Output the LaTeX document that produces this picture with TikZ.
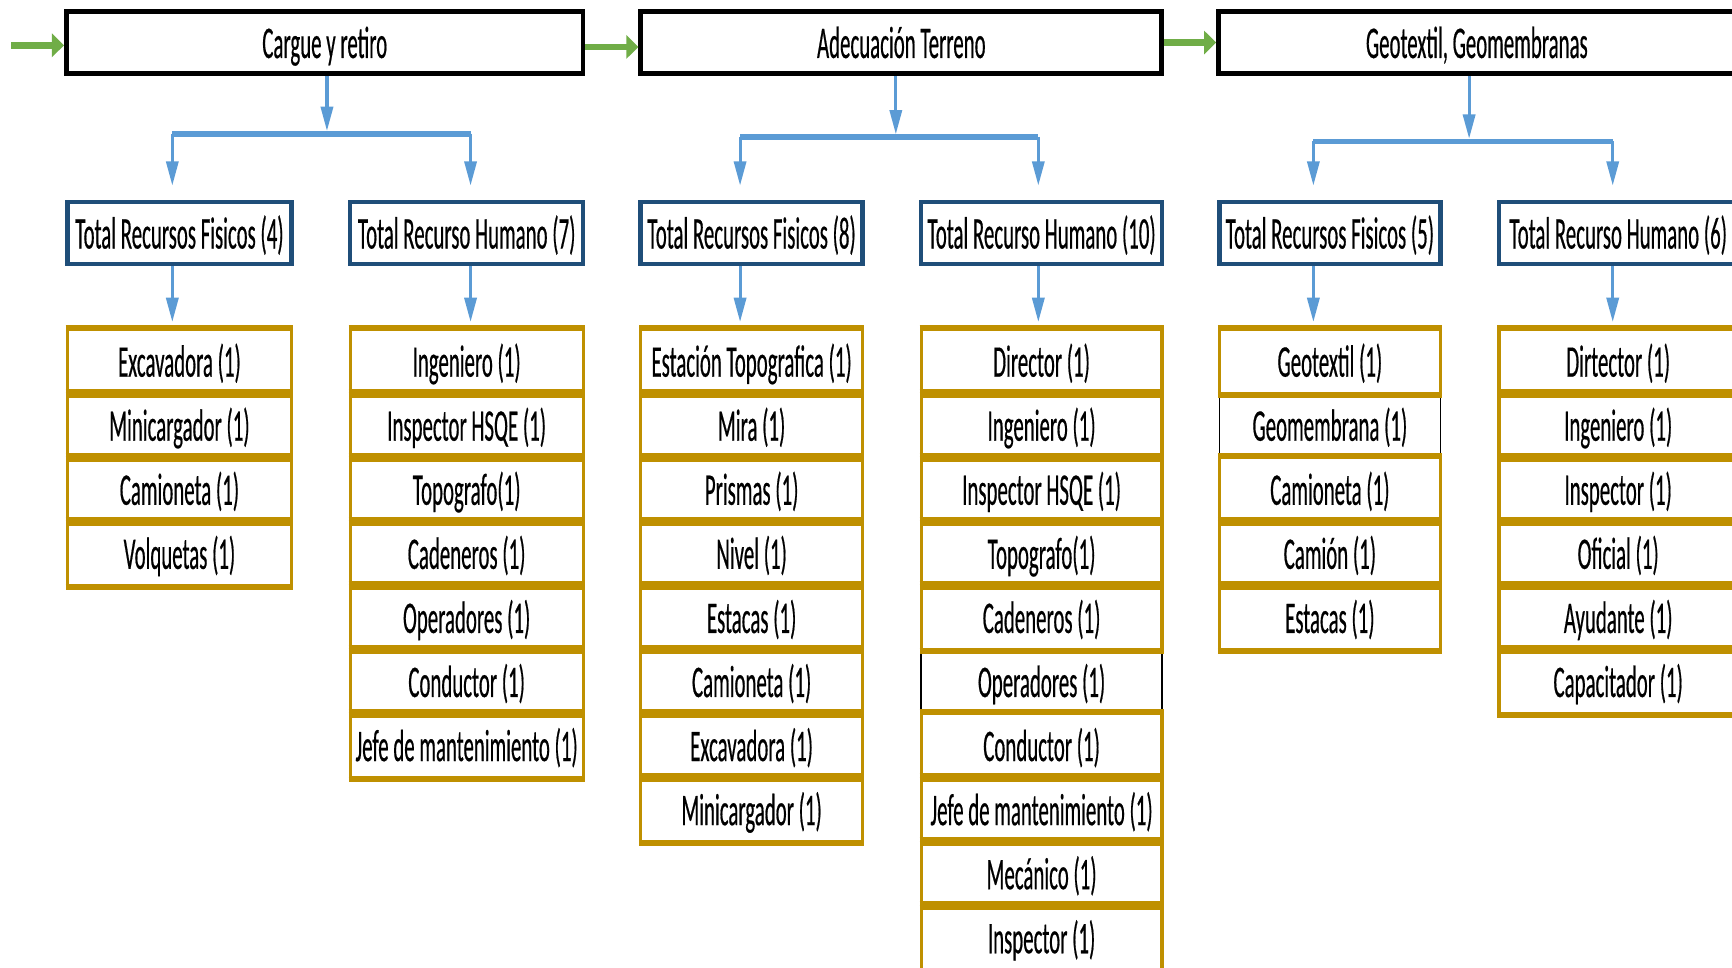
\documentclass[tikz,border=0pt]{standalone}
\usepackage{fontspec}
\usetikzlibrary{arrows.meta}
\newfontfamily\cajafont{Carlito}[FakeStretch=0.46,FakeBold=0.4]
\definecolor{dorado}{HTML}{BF9000}
\definecolor{azulborde}{HTML}{1F4E79}
\definecolor{azulflecha}{HTML}{5B9BD5}
\definecolor{verde}{HTML}{70AD47}

\tikzset{
  caja/.style={inner sep=0pt, align=center, text height=16pt, text depth=2pt,
    font=\cajafont\fontsize{20.5}{24}\selectfont},
  etapa/.style={caja, draw=black, line width=2.2pt, minimum height=28.3pt},
  total/.style={caja, draw=azulborde, line width=2pt, minimum height=28pt},
  recurso/.style={caja, draw=dorado, line width=1.5pt, minimum height=29pt,
    append after command={
      (\tikzlastnode.north west) edge[draw=dorado, line width=2.5pt] (\tikzlastnode.north east)
      (\tikzlastnode.south west) edge[draw=dorado, line width=2.5pt] (\tikzlastnode.south east)}},
  recursonegro/.style={caja, draw=black, line width=0.8pt, minimum height=29pt},
  ancho1/.style={minimum width=101.5pt},
  ancho2/.style={minimum width=105.5pt},
  ancho3/.style={minimum width=100.5pt},
  ancho4/.style={minimum width=109pt},
  ancho5/.style={minimum width=100pt},
  ancho6/.style={minimum width=108pt},
  flecha/.style={draw=azulflecha, line width=1.4pt, -{Triangle[length=11pt,width=5.5pt]}},
  barra/.style={draw=azulflecha, line width=2.6pt},
  avance/.style={draw=verde, line width=3pt, -{Triangle[length=5.5pt,width=10.5pt]}}
}

\begin{document}
\begin{tikzpicture}[x=0.5pt,y=-0.5pt]
  \useasboundingbox (0,0) rectangle (1568,876);
  \clip (0,0) rectangle (1568,876);
  \begin{scope}
    % etapas
    \node[etapa, minimum width=233.8pt] (h1) at (294,38.5) {Cargue y retiro};
    \node[etapa, minimum width=235.8pt] (h2) at (816,38.5) {Adecuación Terreno};
    \node[etapa, minimum width=233.8pt] (h3) at (1337,38.5) {Geotextil, Geomembranas};

    \coordinate (inicio) at (10,41);
    \draw[avance] (inicio) -- (inicio -| h1.west);
    \draw[avance] ([yshift=-2pt]h1.east) -- ([yshift=-2pt]h2.west);
    \draw[avance] (h2.east) -- (h3.west);

    % totales
    \node[total, ancho1] (t1) at (162.5,211) {Total Recursos Fisicos (4)};
    \node[total, ancho2] (t2) at (422.5,211) {Total Recurso Humano (7)};
    \node[total, ancho3] (t3) at (680.5,211) {Total Recursos Fisicos (8)};
    \node[total, ancho4] (t4) at (943,211) {Total Recurso Humano (10)};
    \node[total, ancho5] (t5) at (1204,211) {Total Recursos Fisicos (5)};
    \node[total, ancho6] (t6) at (1465,211) {Total Recurso Humano (6)};

    % ramas
    \coordinate (m1) at (296,121);
    \coordinate (k1) at (156,121);
    \coordinate (k2) at (426,121);
    \coordinate (m2) at (811,124);
    \coordinate (k3) at (670,124);
    \coordinate (k4) at (940,124);
    \coordinate (m3) at (1330,128);
    \coordinate (k5) at (1189,128);
    \coordinate (k6) at (1460,128);

    \draw[flecha, shorten >=1.2pt] (h1.south -| m1) -- (m1);
    \draw[flecha, shorten >=1.2pt] (h2.south -| m2) -- (m2);
    \draw[flecha, shorten >=1.2pt] (h3.south -| m3) -- (m3);
    \draw[barra] (k1) -- (k2);
    \draw[barra] (k3) -- (k4);
    \draw[barra] (k5) -- (k6);
    \draw[flecha, shorten >=6.5pt] (k1) -- (k1 |- t1.north);
    \draw[flecha, shorten >=6.5pt] (k2) -- (k2 |- t2.north);
    \draw[flecha, shorten >=6.5pt] (k3) -- (k3 |- t3.north);
    \draw[flecha, shorten >=6.5pt] (k4) -- (k4 |- t4.north);
    \draw[flecha, shorten >=6.5pt] (k5) -- (k5 |- t5.north);
    \draw[flecha, shorten >=6.5pt] (k6) -- (k6 |- t6.north);

    % recursos fisicos (4)
    \node[recurso, ancho1] (r1a) at (162.5,327) {Excavadora (1)};
    \node[recurso, ancho1] (r1b) at (162.5,385) {Minicargador (1)};
    \node[recurso, ancho1] (r1c) at (162.5,443) {Camioneta (1)};
    \node[recurso, ancho1] (r1d) at (162.5,501) {Volquetas (1)};

    % recurso humano (7)
    \node[recurso, ancho2] (r2a) at (422.5,327) {Ingeniero (1)};
    \node[recurso, ancho2] (r2b) at (422.5,385) {Inspector HSQE (1)};
    \node[recurso, ancho2] (r2c) at (422.5,443) {Topografo(1)};
    \node[recurso, ancho2] (r2d) at (422.5,501) {Cadeneros (1)};
    \node[recurso, ancho2] (r2e) at (422.5,559) {Operadores (1)};
    \node[recurso, ancho2] (r2f) at (422.5,617) {Conductor (1)};
    \node[recurso, ancho2] (r2g) at (422.5,675) {Jefe de mantenimiento (1)};

    % recursos fisicos (8)
    \node[recurso, ancho3] (r3a) at (680.5,327) {Estación Topografica (1)};
    \node[recurso, ancho3] (r3b) at (680.5,385) {Mira (1)};
    \node[recurso, ancho3] (r3c) at (680.5,443) {Prismas (1)};
    \node[recurso, ancho3] (r3d) at (680.5,501) {Nivel (1)};
    \node[recurso, ancho3] (r3e) at (680.5,559) {Estacas (1)};
    \node[recurso, ancho3] (r3f) at (680.5,617) {Camioneta (1)};
    \node[recurso, ancho3] (r3g) at (680.5,675) {Excavadora (1)};
    \node[recurso, ancho3] (r3h) at (680.5,733) {Minicargador (1)};

    % recurso humano (10)
    \node[recursonegro, ancho4] (r4f) at (943,617) {Operadores (1)};
    \node[recurso, ancho4] (r4a) at (943,327) {Director (1)};
    \node[recurso, ancho4] (r4b) at (943,385) {Ingeniero (1)};
    \node[recurso, ancho4] (r4c) at (943,443) {Inspector HSQE (1)};
    \node[recurso, ancho4] (r4d) at (943,501) {Topografo(1)};
    \node[recurso, ancho4] (r4e) at (943,559) {Cadeneros (1)};
    \node[recurso, ancho4] (r4g) at (943,675) {Conductor (1)};
    \node[recurso, ancho4] (r4h) at (943,733) {Jefe de mantenimiento (1)};
    \node[recurso, ancho4] (r4i) at (943,791) {Mecánico (1)};
    \node[recurso, ancho4] (r4j) at (943,849) {Inspector (1)};

    % recursos fisicos (5)
    \node[recursonegro, ancho5] (r5b) at (1204,385) {Geomembrana (1)};
    \node[recurso, ancho5] (r5a) at (1204,327) {Geotextil (1)};
    \node[recurso, ancho5] (r5c) at (1204,443) {Camioneta (1)};
    \node[recurso, ancho5] (r5d) at (1204,501) {Camión (1)};
    \node[recurso, ancho5] (r5e) at (1204,559) {Estacas (1)};

    % recurso humano (6)
    \node[recurso, ancho6] (r6a) at (1465,327) {Dirtector (1)};
    \node[recurso, ancho6] (r6b) at (1465,385) {Ingeniero (1)};
    \node[recurso, ancho6] (r6c) at (1465,443) {Inspector (1)};
    \node[recurso, ancho6] (r6d) at (1465,501) {Oficial (1)};
    \node[recurso, ancho6] (r6e) at (1465,559) {Ayudante (1)};
    \node[recurso, ancho6] (r6f) at (1465,617) {Capacitador (1)};

    \draw[flecha, shorten >=2.5pt] (t1.south -| k1) -- (r1a.north -| k1);
    \draw[flecha, shorten >=2.5pt] (t2.south -| k2) -- (r2a.north -| k2);
    \draw[flecha, shorten >=2.5pt] (t3.south -| k3) -- (r3a.north -| k3);
    \draw[flecha, shorten >=2.5pt] (t4.south -| k4) -- (r4a.north -| k4);
    \draw[flecha, shorten >=2.5pt] (t5.south -| k5) -- (r5a.north -| k5);
    \draw[flecha, shorten >=2.5pt] (t6.south -| k6) -- (r6a.north -| k6);
  \end{scope}
\end{tikzpicture}
\end{document}
